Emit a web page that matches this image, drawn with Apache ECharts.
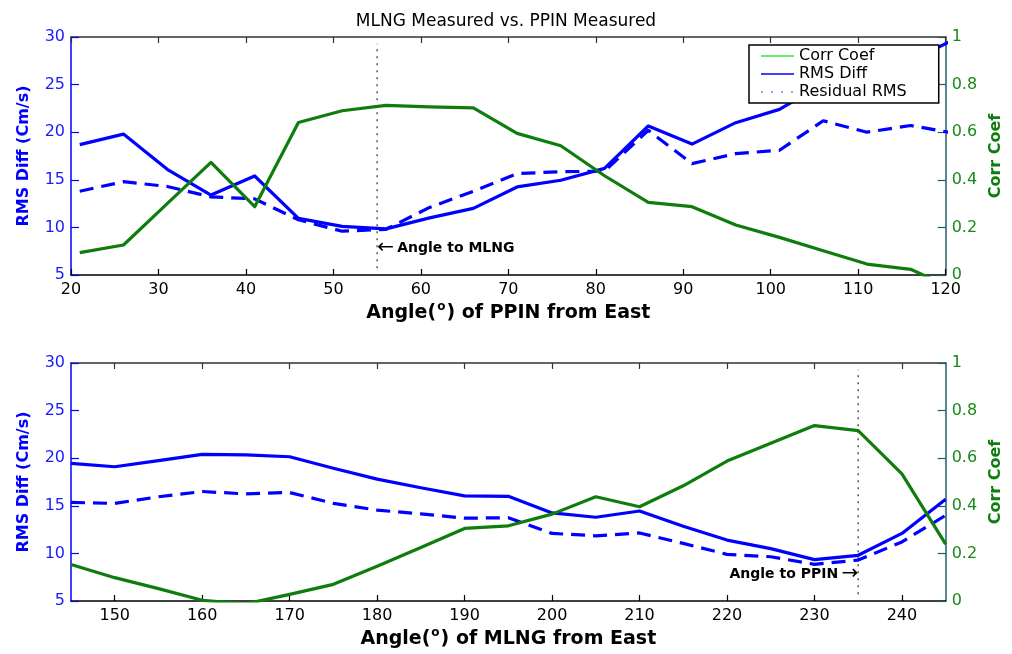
<!DOCTYPE html>
<html>
<head>
<meta charset="utf-8">
<script src="https://cdn.jsdelivr.net/npm/echarts@6/dist/echarts.min.js"></script>
<style>html,body{margin:0;padding:0;background:#fff}#c{width:1012px;height:654px}</style>
</head>
<body>
<div id="c"></div>
<script>
// ---- data ----
const titleText = 'MLNG Measured vs. PPIN Measured';
const seriesNames = ['Corr Coef', 'RMS Diff', 'Residual RMS'];

const topX = [21, 26, 31, 36, 41, 46, 51, 56, 61, 66, 71, 76, 81, 86, 91, 96, 101, 106, 111, 116, 121];
const topRms = [18.7, 19.8, 16.1, 13.4, 15.4, 10.95, 10.1, 9.85, 11.0, 12.0, 14.25, 14.95, 16.2, 20.65, 18.75, 21.0, 22.4, 25.1, 26.3, 27.5, 29.75];
const topResid = [13.8, 14.8, 14.3, 13.2, 13.0, 10.8, 9.6, 9.8, 12.1, 13.8, 15.65, 15.85, 15.9, 20.2, 16.7, 17.75, 18.1, 21.2, 20.0, 20.7, 19.9];
const topCorr = [0.094, 0.126, 0.30, 0.473, 0.287, 0.641, 0.69, 0.713, 0.706, 0.702, 0.595, 0.543, 0.417, 0.305, 0.287, 0.21, 0.158, 0.102, 0.046, 0.024, -0.06];

const botX = [145, 150, 155, 160, 165, 170, 175, 180, 185, 190, 195, 200, 205, 210, 215, 220, 225, 230, 235, 240, 245];
const botRms = [19.45, 19.1, 19.75, 20.4, 20.35, 20.15, 18.95, 17.8, 16.9, 16.05, 16.0, 14.25, 13.8, 14.45, 12.85, 11.4, 10.5, 9.35, 9.8, 12.1, 15.7];
const botResid = [15.35, 15.25, 15.95, 16.5, 16.25, 16.4, 15.25, 14.55, 14.15, 13.7, 13.75, 12.1, 11.85, 12.15, 11.05, 9.9, 9.65, 8.85, 9.3, 11.2, 14.0];
const botCorr = [0.153, 0.098, 0.052, 0.003, -0.012, 0.028, 0.070, 0.146, 0.225, 0.305, 0.316, 0.365, 0.438, 0.396, 0.484, 0.588, 0.663, 0.737, 0.716, 0.534, 0.239];

const topXRange = [20, 120];
const topXTicks = [20, 30, 40, 50, 60, 70, 80, 90, 100, 110, 120];
const botXRange = [145, 245];
const botXTicks = [150, 160, 170, 180, 190, 200, 210, 220, 230, 240];
const rmsRange = [5, 30, 5];
const corrRange = [0, 1, 0.2];

const topMarkerX = 55;   // Angle to MLNG
const botMarkerX = 235;  // Angle to PPIN
const markerSpan = [5.7, 29.3];
const labelY = 7.85;
const topAnnot = 'Angle to MLNG';
const botAnnot = 'Angle to PPIN';
const topXName = ['Angle(', 'o', ') of PPIN from East'];
const botXName = ['Angle(', 'o', ') of MLNG from East'];
const leftName = 'RMS Diff (Cm/s)';
const rightName = 'Corr Coef';

// ---- styles ----
const BLUE = '#0000ff';
const GREEN = '#0e7d0e';
const FONT = 'DejaVu Sans';

const chart = echarts.init(document.getElementById('c'), null, {renderer: 'canvas'});

const grids = [
  {left: 71, right: 62, top: 37, height: 238},
  {left: 71, right: 62, top: 363, height: 238}
];

function pairs(xs, ys) { return xs.map((x, i) => [x, ys[i]]); }

function xBottom(gi, range, ticks, nameParts) {
  return {
    type: 'value', gridIndex: gi, position: 'bottom',
    min: range[0], max: range[1],
    axisLine: {lineStyle: {color: '#000', width: 1.5}},
    axisTick: {inside: true, length: 6, customValues: ticks, lineStyle: {color: '#000', width: 1.2}},
    axisLabel: {color: '#000', fontFamily: FONT, fontSize: 16, margin: 7, customValues: ticks},
    splitLine: {show: false},
    name: nameParts[0] + '{sup|' + nameParts[1] + '}' + nameParts[2],
    nameLocation: 'middle', nameGap: 26,
    nameTextStyle: {
      color: '#000', fontFamily: FONT, fontWeight: 'bold', fontSize: 19, lineHeight: 24,
      rich: {sup: {fontFamily: FONT, fontSize: 12, fontWeight: 'bold', color: '#000', verticalAlign: 'top', lineHeight: 12, padding: [0, 1, 0, 1]}}
    }
  };
}
function xTop(gi, range, ticks) {
  return {
    type: 'value', gridIndex: gi, position: 'top',
    min: range[0], max: range[1],
    axisLine: {lineStyle: {color: '#333', width: 1.5}},
    axisTick: {inside: true, length: 6, customValues: ticks, lineStyle: {color: '#333', width: 1.2}},
    axisLabel: {show: false, customValues: ticks},
    splitLine: {show: false}
  };
}
function yLeft(gi) {
  return {
    type: 'value', gridIndex: gi, position: 'left',
    min: rmsRange[0], max: rmsRange[1], interval: rmsRange[2],
    axisLine: {show: true, lineStyle: {color: BLUE, width: 1.5}},
    axisTick: {show: true, inside: true, length: 8, lineStyle: {color: BLUE, width: 1.2}},
    axisLabel: {color: '#1a1aff', fontFamily: FONT, fontSize: 16, margin: 6},
    splitLine: {show: false},
    name: leftName, nameLocation: 'middle', nameRotate: 90, nameGap: 39,
    nameTextStyle: {color: BLUE, fontFamily: FONT, fontWeight: 'bold', fontSize: 16}
  };
}
function yRight(gi) {
  return {
    type: 'value', gridIndex: gi, position: 'right',
    min: corrRange[0], max: corrRange[1], interval: corrRange[2],
    axisLine: {show: true, lineStyle: {color: '#1f5f66', width: 1.5}},
    axisTick: {show: true, inside: true, length: 8, lineStyle: {color: '#1f5f66', width: 1.2}},
    axisLabel: {color: '#1a8a1a', fontFamily: FONT, fontSize: 16, margin: 6},
    splitLine: {show: false},
    name: rightName, nameLocation: 'middle', nameRotate: 90, nameGap: 42,
    nameTextStyle: {color: GREEN, fontFamily: FONT, fontWeight: 'bold', fontSize: 16}
  };
}

function lineSeries(name, xi, yi, data, color, type) {
  return {
    name: name, type: 'line', xAxisIndex: xi, yAxisIndex: yi,
    data: data, symbol: 'none', clip: true, silent: true,
    lineStyle: {color: color, width: 3.2, type: type, cap: 'butt', join: 'round'},
    itemStyle: {color: color}
  };
}

function markerSeries(xi, yi, x, text, side) {
  const label = side === 'right'
    ? '{arr|\u2190} {t|' + text + '}'
    : '{t|' + text + '} {arr|\u2192}';
  return {
    type: 'line', xAxisIndex: xi, yAxisIndex: yi, silent: true,
    data: [[x, markerSpan[0]], [x, markerSpan[1]]],
    symbol: 'none',
    lineStyle: {color: '#555', width: 1.5, type: [2, 5]},
    markPoint: {
      silent: true,
      symbol: 'circle', symbolSize: 0,
      data: [{coord: [x, labelY]}],
      label: {
        show: true, position: side, distance: 0,
        formatter: label,
        rich: {
          arr: {fontFamily: FONT, fontSize: 20, color: '#000', fontWeight: 'normal'},
          t: {fontFamily: FONT, fontSize: 14, color: '#000', fontWeight: 'bold'}
        }
      }
    }
  };
}

const hidden = {opacity: 0, borderWidth: 0};
const option = {
  animation: false,
  backgroundColor: '#fff',
  title: {
    text: titleText, left: 'center', top: 8,
    textStyle: {fontFamily: FONT, fontSize: 17, fontWeight: 'normal', color: '#000'}
  },
  legend: {
    data: [
      {name: seriesNames[0], itemStyle: hidden, lineStyle: {color: '#66ee66', width: 2, type: 'solid'}},
      {name: seriesNames[1], itemStyle: hidden, lineStyle: {color: BLUE, width: 1.5, type: 'solid'}},
      {name: seriesNames[2], itemStyle: hidden, lineStyle: {color: '#8080ff', width: 1.5, type: [2, 8]}}
    ],
    orient: 'vertical', left: 749, top: 45,
    itemWidth: 33, itemHeight: 16, itemGap: 2, itemTextGap: 11,
    padding: [3, 32, 3, 11],
    backgroundColor: '#fff', borderColor: '#000', borderWidth: 1.5, borderRadius: 0,
    textStyle: {fontFamily: FONT, fontSize: 16, color: '#000'},
    selectedMode: false
  },
  grid: grids,
  xAxis: [
    xBottom(0, topXRange, topXTicks, topXName), xTop(0, topXRange, topXTicks),
    xBottom(1, botXRange, botXTicks, botXName), xTop(1, botXRange, botXTicks)
  ],
  yAxis: [yLeft(0), yRight(0), yLeft(1), yRight(1)],
  series: [
    markerSeries(0, 0, topMarkerX, topAnnot, 'right'),
    markerSeries(2, 2, botMarkerX, botAnnot, 'left'),
    lineSeries(seriesNames[1], 0, 0, pairs(topX, topRms), BLUE, 'solid'),
    lineSeries(seriesNames[2], 0, 0, pairs(topX, topResid), BLUE, [14, 8]),
    lineSeries(seriesNames[0], 0, 1, pairs(topX, topCorr), GREEN, 'solid'),
    lineSeries(seriesNames[1], 2, 2, pairs(botX, botRms), BLUE, 'solid'),
    lineSeries(seriesNames[2], 2, 2, pairs(botX, botResid), BLUE, [14, 8]),
    lineSeries(seriesNames[0], 2, 3, pairs(botX, botCorr), GREEN, 'solid')
  ]
};
chart.setOption(option);
</script>
</body>
</html>
